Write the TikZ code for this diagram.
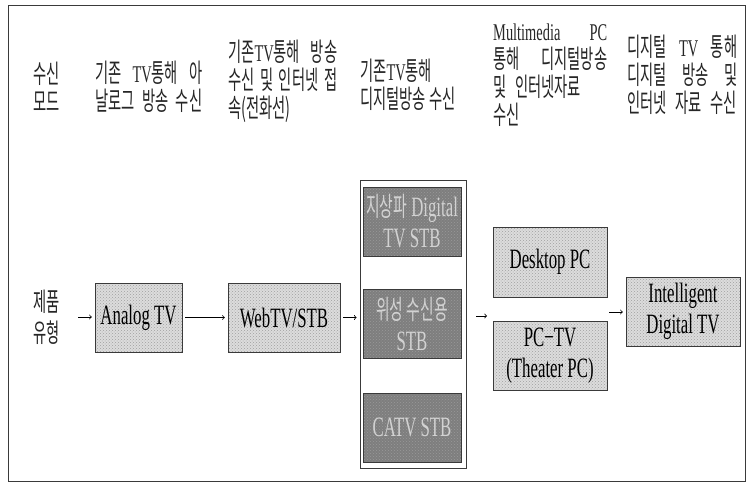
\documentclass[tikz,border=0pt]{standalone}
\usepackage{fontspec}
\usetikzlibrary{patterns}
\setmainfont{Liberation Serif}[FakeStretch=0.6]
\newfontfamily\kr{Noto Sans CJK KR}[FakeStretch=0.55]
\definecolor{boxgray}{HTML}{DCDCDC}
\definecolor{dotgray}{HTML}{A0A0A0}
\definecolor{stbgray}{HTML}{7E7E7E}
\definecolor{stbdots}{HTML}{999999}
\definecolor{stbtext}{HTML}{D2D2D2}
\definecolor{linegray}{HTML}{3A3A3A}
\tikzset{
	hdr/.style = {anchor=west, inner sep=0pt, align=left, text=black!85, font=\kr\fontsize{26}{28}\selectfont},
	prodbox/.style = {draw=linegray, preaction={fill=boxgray}, pattern=crosshatch dots, pattern color=dotgray, inner sep=0pt, align=center, minimum height=69pt, font=\fontsize{28}{31}\selectfont},
	stbbox/.style = {prodbox, preaction={fill=stbgray}, pattern color=stbdots, text=stbtext, minimum width=98pt},
	flow/.style = {->, line width=0.8pt, shorten >=3pt},
}
\newcommand{\hg}[1]{{\kr\fontsize{27}{31}\selectfont #1}}
\newcommand{\lt}[1]{{\rmfamily\fontsize{24}{28}\selectfont #1}}

\begin{document}
\begin{tikzpicture}[x=1pt, y=-1pt]
	\useasboundingbox (0,0) rectangle (750,485);
	\draw [linegray, line width=0.6pt] (8,5) rectangle (745,481);
	% column heads
	\node [hdr] (hdMode) at (33,87) {수신\\모드};
	\node [hdr, text width=107pt] (hdAnalog) at (95,87) {기존\hfill \lt{TV}통해\hfill 아\\날로그\hfill 방송\hfill 수신};
	\node [hdr, text width=109pt] (hdWeb) at (228,81) {기존\lt{TV}통해\hfill 방송\\수신\hfill 및\hfill 인터넷\hfill 접\\속(전화선)};
	\node [hdr] (hdDigital) at (360,85) {기존\lt{TV}통해\\디지털방송 수신};
	\node [hdr, text width=114pt] (hdPC) at (493,75) {\lt{Multimedia\hfill PC}\\통해\hfill 디지털방송\\및 인터넷자료\\수신};
	\node [hdr, text width=110pt] (hdIntel) at (627,75) {디지털\hfill \lt{TV}\hfill 통해\\디지털\hfill 방송\hfill 및\\인터넷 자료 수신};
	\node [hdr, font=\kr\fontsize{26}{31}\selectfont] (prodType) at (33,317) {제품\\유형};
	% products
	\node [prodbox, minimum width=87pt] (analog) at (138.5,317.5) {Analog TV};
	\node [prodbox, minimum width=112pt] (webtv) at (284,317.5) {WebTV/STB};
	\node [draw=linegray, line width=0.8pt, minimum width=106pt, minimum height=288pt] (stbGroup) at (413,324) {};
	\node [stbbox] (terr) at (412,221.5) {\hg{지상파} Digital\\TV STB};
	\node [stbbox] (sat) at (412,324) {\hg{위성 수신용}\\STB};
	\node [stbbox] (catv) at (412,427.5) {CATV STB};
	\node [prodbox, minimum width=114pt, minimum height=70pt] (desktop) at (550,262) {Desktop PC};
	\node [prodbox, minimum width=114pt] (pctv) at (550,356) {PC−TV\\(Theater PC)};
	\node [prodbox, minimum width=114pt] (idtv) at (683,311.5) {Intelligent\\Digital TV};
	% arrows
	\coordinate (feed) at (78,317);
	\coordinate (pcIn) at (490,316);
	\coordinate (pcOut) at (609,312);
	\draw [flow] (feed) -- (feed -| analog.west);
	\draw [flow, shorten <=3pt] (analog) -- (webtv);
	\draw [flow, shorten <=3pt] (webtv.east) -- (webtv.east -| stbGroup.west);
	\draw [flow, shorten <=10pt] (stbGroup.east |- pcIn) -- (pcIn);
	\draw [flow] (pcOut) -- (pcOut -| idtv.west);
\end{tikzpicture}
\end{document}
